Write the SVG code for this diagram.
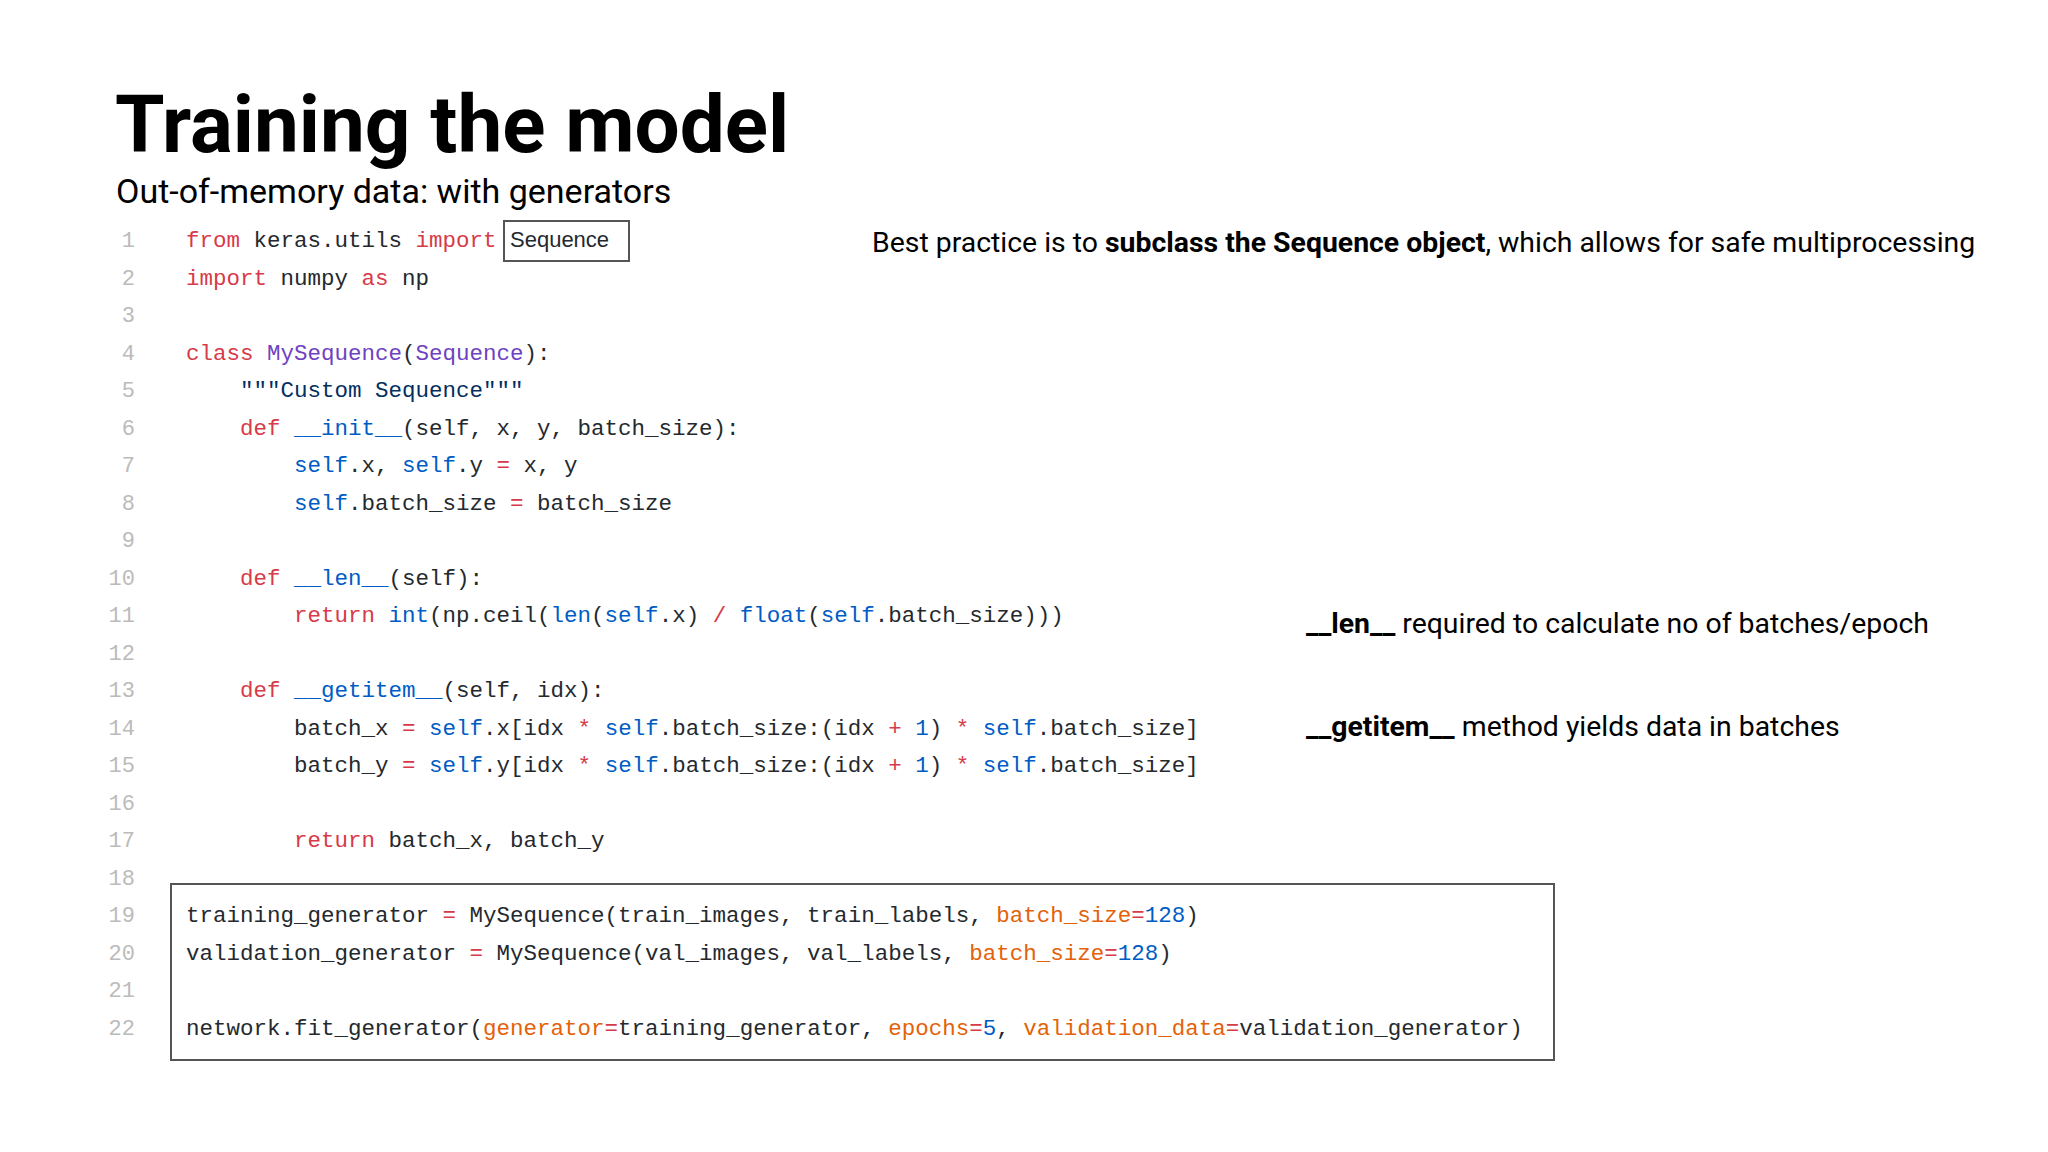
<svg xmlns="http://www.w3.org/2000/svg" width="2048" height="1152" viewBox="0 0 2048 1152">
<style>
.t{font-family:Roboto,"Liberation Sans",sans-serif;fill:#000}
.c{font-family:"Liberation Mono",monospace;font-size:22.5px;fill:#24292e;white-space:pre}
.n{font-family:"Liberation Mono",monospace;font-size:22px;fill:#bbb;text-anchor:end}
.k{fill:#d73a49}.b{fill:#005cc5}.p{fill:#6f42c1}.s{fill:#032f62}.o{fill:#e36209}
.box{fill:none;stroke:#555;stroke-width:2}
</style>
<rect width="2048" height="1152" fill="#fff"/>
<g id="title"><text class="t" x="115" y="152" font-size="80" font-weight="bold">Training the model</text>
<text class="t" x="116" y="203" font-size="34">Out-of-memory data: with generators</text></g>
<g id="lineno">
<text class="n" x="135" y="247">1</text><text class="n" x="135" y="284.5">2</text><text class="n" x="135" y="322">3</text><text class="n" x="135" y="359.5">4</text><text class="n" x="135" y="397">5</text><text class="n" x="135" y="434.5">6</text><text class="n" x="135" y="472">7</text><text class="n" x="135" y="509.5">8</text><text class="n" x="135" y="547">9</text><text class="n" x="135" y="584.5">10</text><text class="n" x="135" y="622">11</text><text class="n" x="135" y="659.5">12</text><text class="n" x="135" y="697">13</text><text class="n" x="135" y="734.5">14</text><text class="n" x="135" y="772">15</text><text class="n" x="135" y="809.5">16</text><text class="n" x="135" y="847">17</text><text class="n" x="135" y="884.5">18</text><text class="n" x="135" y="922">19</text><text class="n" x="135" y="959.5">20</text><text class="n" x="135" y="997">21</text><text class="n" x="135" y="1034.5">22</text>
</g>
<g id="code">
<text class="c" x="186" y="247"><tspan class="k">from</tspan> keras.utils <tspan class="k">import</tspan></text>
<text x="510" y="247" font-family="'Liberation Sans',Arial,sans-serif" font-size="22" fill="#24292e">Sequence</text>
<text class="c" x="186" y="284.5"><tspan class="k">import</tspan> numpy <tspan class="k">as</tspan> np</text>
<text class="c" x="186" y="359.5"><tspan class="k">class</tspan> <tspan class="p">MySequence</tspan>(<tspan class="p">Sequence</tspan>):</text>
<text class="c" x="240" y="397"><tspan class="s">"""Custom Sequence"""</tspan></text>
<text class="c" x="240" y="434.5"><tspan class="k">def</tspan> <tspan class="b">__init__</tspan>(self, x, y, batch_size):</text>
<text class="c" x="294" y="472"><tspan class="b">self</tspan>.x, <tspan class="b">self</tspan>.y <tspan class="k">=</tspan> x, y</text>
<text class="c" x="294" y="509.5"><tspan class="b">self</tspan>.batch_size <tspan class="k">=</tspan> batch_size</text>
<text class="c" x="240" y="584.5"><tspan class="k">def</tspan> <tspan class="b">__len__</tspan>(self):</text>
<text class="c" x="294" y="622"><tspan class="k">return</tspan> <tspan class="b">int</tspan>(np.ceil(<tspan class="b">len</tspan>(<tspan class="b">self</tspan>.x) <tspan class="k">/</tspan> <tspan class="b">float</tspan>(<tspan class="b">self</tspan>.batch_size)))</text>
<text class="c" x="240" y="697"><tspan class="k">def</tspan> <tspan class="b">__getitem__</tspan>(self, idx):</text>
<text class="c" x="294" y="734.5">batch_x <tspan class="k">=</tspan> <tspan class="b">self</tspan>.x[idx <tspan class="k">*</tspan> <tspan class="b">self</tspan>.batch_size:(idx <tspan class="k">+</tspan> <tspan class="b">1</tspan>) <tspan class="k">*</tspan> <tspan class="b">self</tspan>.batch_size]</text>
<text class="c" x="294" y="772">batch_y <tspan class="k">=</tspan> <tspan class="b">self</tspan>.y[idx <tspan class="k">*</tspan> <tspan class="b">self</tspan>.batch_size:(idx <tspan class="k">+</tspan> <tspan class="b">1</tspan>) <tspan class="k">*</tspan> <tspan class="b">self</tspan>.batch_size]</text>
<text class="c" x="294" y="847"><tspan class="k">return</tspan> batch_x, batch_y</text>
<text class="c" x="186" y="922">training_generator <tspan class="k">=</tspan> MySequence(train_images, train_labels, <tspan class="o">batch_size</tspan><tspan class="k">=</tspan><tspan class="b">128</tspan>)</text>
<text class="c" x="186" y="959.5">validation_generator <tspan class="k">=</tspan> MySequence(val_images, val_labels, <tspan class="o">batch_size</tspan><tspan class="k">=</tspan><tspan class="b">128</tspan>)</text>
<text class="c" x="186" y="1034.5">network.fit_generator(<tspan class="o">generator</tspan><tspan class="k">=</tspan>training_generator, <tspan class="o">epochs</tspan><tspan class="k">=</tspan><tspan class="b">5</tspan>, <tspan class="o">validation_data</tspan><tspan class="k">=</tspan>validation_generator)</text>
</g>
<g id="boxes">
<rect class="box" x="504" y="221" width="125" height="40"/>
<rect class="box" x="171" y="884" width="1383" height="176"/>
</g>
<g id="notes">
<text class="t" x="872" y="252" font-size="28.4">Best practice is to <tspan font-weight="bold">subclass the Sequence object</tspan>, which allows for safe multiprocessing</text>
<text class="t" x="1306" y="633" font-size="28.4"><tspan font-weight="bold">__len__</tspan> required to calculate no of batches/epoch</text>
<text class="t" x="1306" y="736" font-size="28.4"><tspan font-weight="bold">__getitem__</tspan> method yields data in batches</text>
</g>
</svg>
